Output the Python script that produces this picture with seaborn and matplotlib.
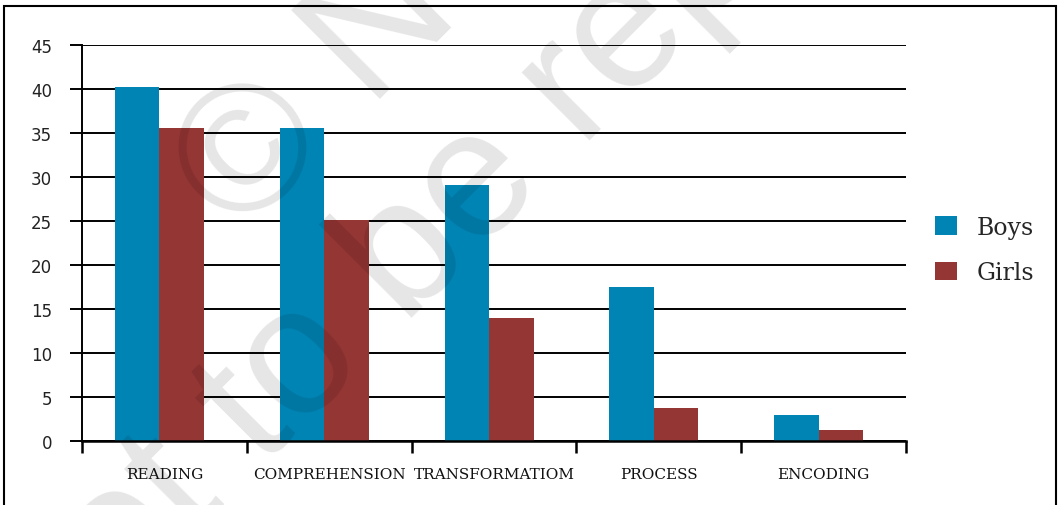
import matplotlib
matplotlib.use("Agg")
import matplotlib.pyplot as plt
import matplotlib.patches as mpatches
import pandas as pd
import seaborn as sns

# ── Data ──────────────────────────────────────────────────
categories = ["READING", "COMPREHENSION", "TRANSFORMATIOM", "PROCESS", "ENCODING"]
boys = [40.2, 35.6, 29.1, 17.5, 2.9]
girls = [35.6, 25.1, 14.0, 3.7, 1.3]
groups = ["Boys", "Girls"]
PALETTE = {"Boys": "#0084b4", "Girls": "#943634"}
yticks = list(range(0, 50, 5))

df = pd.DataFrame({
    "skill": categories * 2,
    "score": boys + girls,
    "group": ["Boys"] * len(categories) + ["Girls"] * len(categories),
})

sns.set_theme(style="white")
plt.rcParams["font.family"] = "DejaVu Sans"

W, H = 1062, 506
fig = plt.figure(figsize=(W / 100, H / 100), dpi=100, facecolor="white")
ax = fig.add_axes([82 / W, 64 / H, 824 / W, 396 / H])

sns.barplot(data=df, x="skill", y="score", hue="group", hue_order=groups,
            palette=PALETTE, width=0.54, gap=0, saturation=1,
            linewidth=0, legend=False, ax=ax)

# bar groups sit a touch left of the category centre in the original
for p in ax.patches:
    p.set_x(p.get_x() - 0.03)

# ── Axes styling ──────────────────────────────────────────
ax.set_ylim(0, 45)
ax.set_xlim(-0.5, len(categories) - 0.5)
ax.set_axisbelow(True)
ax.set_yticks(yticks)
ax.yaxis.grid(True, color="black", linewidth=1.4)
ax.tick_params(axis="y", length=8.6, width=1.4, color="black", pad=13,
               labelsize=12, labelcolor="#222222", left=True)

ax.set_xticks(range(len(categories)))
ax.set_xticklabels(categories, fontfamily="DejaVu Serif", fontsize=11, color="#111111")
ax.set_xticks([i - 0.5 for i in range(len(categories) + 1)], minor=True)
ax.tick_params(axis="x", which="major", length=0, pad=18.5)
ax.tick_params(axis="x", which="minor", length=8.6, width=1.8, color="black",
               direction="out", bottom=True)

for side in ["top", "right"]:
    ax.spines[side].set_visible(False)
ax.spines["left"].set_color("black")
ax.spines["left"].set_linewidth(1.4)
ax.spines["bottom"].set_color("black")
ax.spines["bottom"].set_linewidth(1.8)
ax.set_xlabel("")
ax.set_ylabel("")

# ── Legend ────────────────────────────────────────────────
handles = [mpatches.Patch(color=PALETTE[g], linewidth=0) for g in groups]
fig.legend(handles, groups, loc="center left",
           bbox_to_anchor=(935 / W, 1 - 251 / H),
           frameon=False, prop={"family": "DejaVu Serif", "size": 17},
           handlelength=0.93, handleheight=0.85, handletextpad=0.85,
           labelspacing=0.95, borderpad=0, borderaxespad=0)

# ── Frame and watermark ───────────────────────────────────
fig.add_artist(mpatches.Rectangle((4 / W, -0.05), 1052 / W, 1.05 - 6.5 / H,
                                  transform=fig.transFigure, fill=False,
                                  edgecolor="black", linewidth=1.5))

wm = dict(transform=fig.transFigure, rotation=45, rotation_mode="anchor",
          ha="left", va="baseline", fontfamily="Liberation Sans",
          fontsize=130, color="black", alpha=0.1)
fig.text(241 / W, 1 - 239 / H, "\u00a9 NCERT", **wm)
fig.text(49 / W, 1 - 681 / H, "not to be republished", **wm)

fig.savefig("out.png", dpi=100)
